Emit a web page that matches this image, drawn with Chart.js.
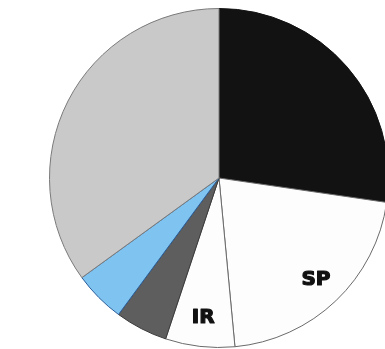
<!DOCTYPE html>
<html>
<head>
<meta charset="utf-8">
<script src="https://cdn.jsdelivr.net/npm/chart.js@4/dist/chart.umd.min.js"></script>
<style>
html,body{margin:0;padding:0;background:#fff;overflow:hidden;width:385px;height:349px;}
#chart{position:absolute;left:49px;top:8px;}
</style>
</head>
<body>
<canvas id="chart" width="340" height="340"></canvas>
<script>
// slices, clockwise from 12 o'clock
const categories=["Black","SP","IR","Dark grey","Blue","Light grey"];
const shares=[27.3,21.2,6.6,5.0,4.9,35.0];
const sliceLabels=["","SP","IR","","",""];
const sliceColors=["#121212","#fdfdfd","#fdfdfd","#5e5e5e","#7fc3f0","#c9c9c9"];
const edgeColors=["#121212","#6a6a6a","#6a6a6a","#3a3a3a","#2b5e9a","#7a7a7a"];

const labelPlugin={
    id:"sliceLabels",
    afterDatasetsDraw(chart){
        const ctx=chart.ctx;
        const meta=chart.getDatasetMeta(0);
        ctx.save();
        ctx.font="bold 20px 'DejaVu Sans', sans-serif";
        ctx.fillStyle="#111";
        ctx.strokeStyle="#111";
        ctx.lineWidth=1.2;
        ctx.lineJoin="round";
        ctx.textAlign="center";
        ctx.textBaseline="middle";
        meta.data.forEach((arc,i)=>{
            if(!sliceLabels[i]) return;
            const p=arc.getProps(["x","y","startAngle","endAngle","outerRadius"],true);
            const mid=(p.startAngle+p.endAngle)/2;
            const r=p.outerRadius*0.83;
            const x=p.x+Math.cos(mid)*r, y=p.y+Math.sin(mid)*r;
            ctx.strokeText(sliceLabels[i],x,y);
            ctx.fillText(sliceLabels[i],x,y);
        });
        ctx.restore();
    }
};

new Chart("chart",{
    type:"pie",
    data:{
        labels:categories,
        datasets:[{
            data:shares,
            backgroundColor:sliceColors,
            borderColor:edgeColors,
            borderWidth:1
        }]
    },
    options:{
        responsive:false,
        animation:false,
        layout:{padding:0},
        plugins:{
            legend:{display:false},
            tooltip:{enabled:false}
        }
    },
    plugins:[labelPlugin]
});
</script>
</body>
</html>
